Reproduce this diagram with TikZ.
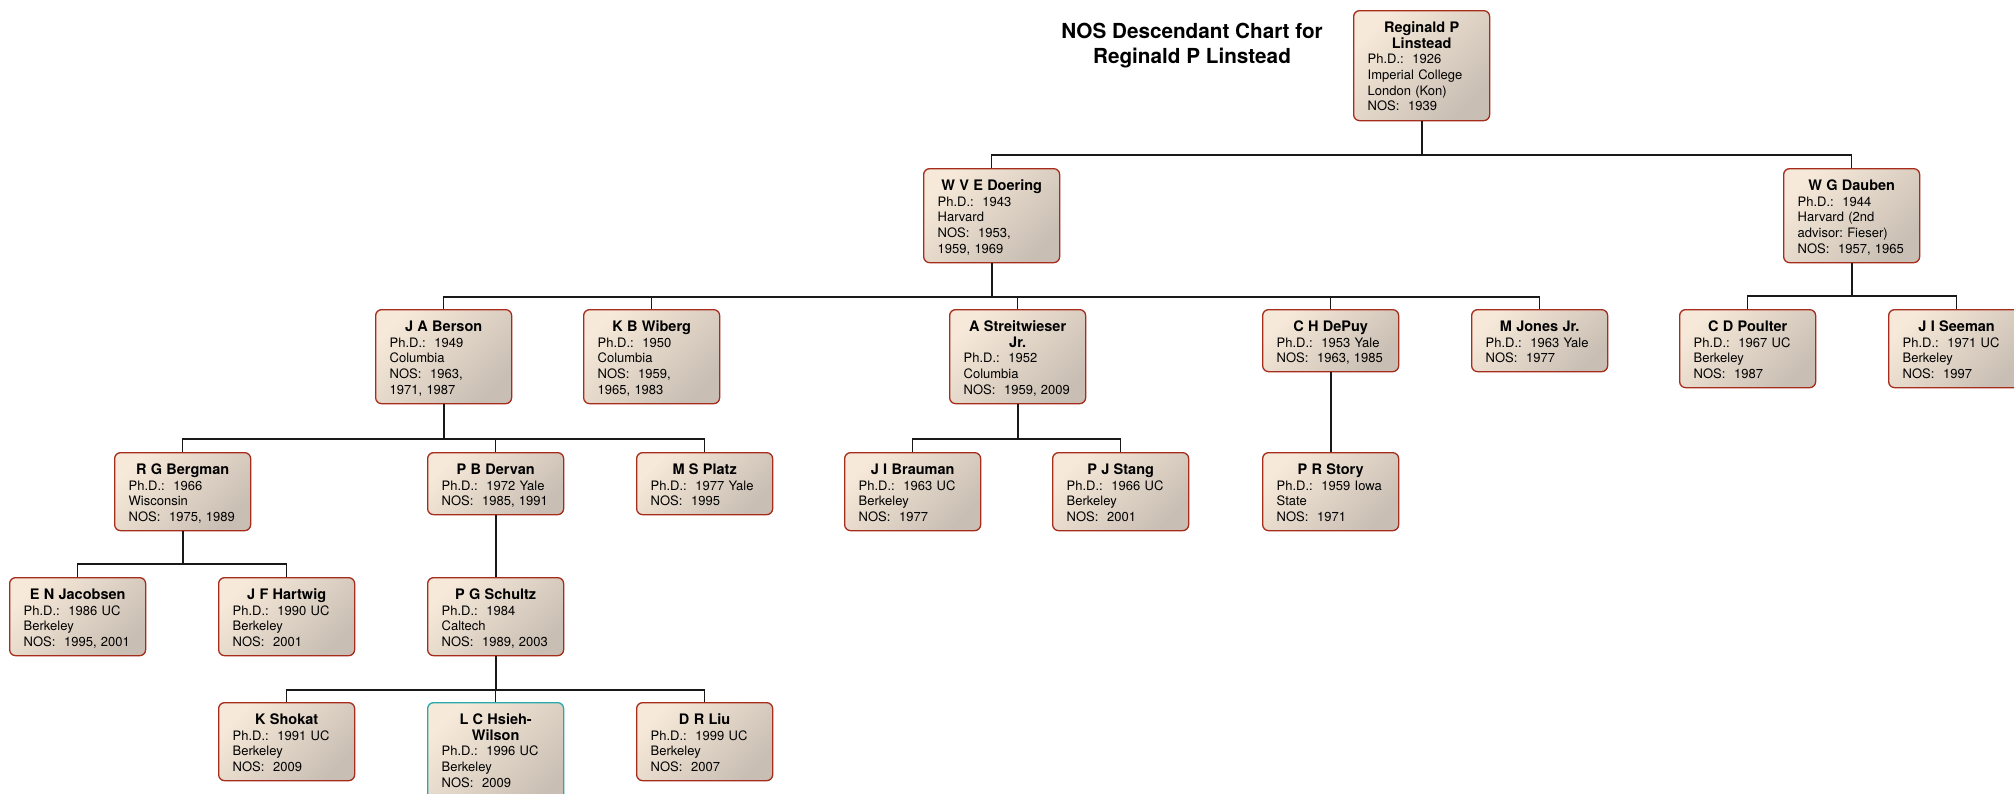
\documentclass[tikz,border=0pt]{standalone}
\usepackage{fontspec}
\setmainfont{TeX Gyre Heros}
\definecolor{boxred}{RGB}{166,44,28}
\definecolor{boxteal}{RGB}{40,168,168}
\definecolor{fillA}{RGB}{246,233,217}
\definecolor{fillB}{RGB}{201,190,179}
\definecolor{linecol}{RGB}{25,25,25}
\newcommand{\nm}{\fontsize{14.5}{15.7}\selectfont\bfseries}
\newcommand{\bd}{\fontsize{13}{15.7}\selectfont\frenchspacing}
\newcommand{\pname}[1]{\makebox[\linewidth]{\nm #1}\\}
\newcommand{\bl}[1]{\mbox{#1}}
\tikzset{
  pbox/.style={draw=boxred, line width=1.3pt, rounded corners=6pt,
    top color=fillA, bottom color=fillB, shading angle=45,
    anchor=north west, inner xsep=14pt, inner ysep=0pt,
    text width=108pt, align=left, text height=21.7pt, font=\bd, text=black},
  lthree/.style={text depth=40.3pt},
  lfour/.style={text depth=56.3pt},
  lfive/.style={text depth=72.3pt},
  lsix/.style={text depth=88.3pt},
  conn/.style={draw=linecol, line width=1.3pt},
  drop/.style={draw=linecol, line width=2pt},
  ttl/.style={font=\fontsize{20.7}{25}\selectfont\bfseries, inner sep=0pt, anchor=base}
}
\begin{document}
\begin{tikzpicture}[x=1pt,y=-1pt]
\useasboundingbox (0,0) rectangle (2014,793);
\clip (0,0) rectangle (2014,793);
\fill[white] (0,0) rectangle (2014,793);

% title
\node[ttl] (title1) at (1192,38.3) {NOS Descendant Chart for};
\node[ttl] (title2) at (1192,63.3) {Reginald P Linstead};

% level 1
\node[pbox,lsix] (lin) at (1353,10) {\pname{Reginald P}\pname{Linstead}\bl{Ph.D.:\ \ 1926}\\\bl{Imperial College}\\\bl{London (Kon)}\\\bl{NOS:\ \ 1939}};

% level 2
\node[pbox,lfive] (doe) at (923,168) {\pname{W V E Doering}\bl{Ph.D.:\ \ 1943}\\\bl{Harvard}\\\bl{NOS:\ \ 1953,}\\\bl{1959, 1969}};
\node[pbox,lfive] (dau) at (1783,168) {\pname{W G Dauben}\bl{Ph.D.:\ \ 1944}\\\bl{Harvard (2nd}\\\bl{advisor: Fieser)}\\\bl{NOS:\ \ 1957, 1965}};

% level 3
\node[pbox,lfive] (ber) at (375,309) {\pname{J A Berson}\bl{Ph.D.:\ \ 1949}\\\bl{Columbia}\\\bl{NOS:\ \ 1963,}\\\bl{1971, 1987}};
\node[pbox,lfive] (wib) at (583,309) {\pname{K B Wiberg}\bl{Ph.D.:\ \ 1950}\\\bl{Columbia}\\\bl{NOS:\ \ 1959,}\\\bl{1965, 1983}};
\node[pbox,lfive] (str) at (949,309) {\pname{A Streitwieser}\pname{Jr.}\bl{Ph.D.:\ \ 1952}\\\bl{Columbia}\\\bl{NOS:\ \ 1959, 2009}};
\node[pbox,lthree] (dep) at (1262,309) {\pname{C H DePuy}\bl{Ph.D.:\ \ 1953 Yale}\\\bl{NOS:\ \ 1963, 1985}};
\node[pbox,lthree] (jon) at (1471,309) {\pname{M Jones Jr.}\bl{Ph.D.:\ \ 1963 Yale}\\\bl{NOS:\ \ 1977}};
\node[pbox,lfour] (pou) at (1679,309) {\pname{C D Poulter}\bl{Ph.D.:\ \ 1967 UC}\\\bl{Berkeley}\\\bl{NOS:\ \ 1987}};
\node[pbox,lfour] (see) at (1888,309) {\pname{J I Seeman}\bl{Ph.D.:\ \ 1971 UC}\\\bl{Berkeley}\\\bl{NOS:\ \ 1997}};

% level 4
\node[pbox,lfour] (brg) at (114,452) {\pname{R G Bergman}\bl{Ph.D.:\ \ 1966}\\\bl{Wisconsin}\\\bl{NOS:\ \ 1975, 1989}};
\node[pbox,lthree] (der) at (427,452) {\pname{P B Dervan}\bl{Ph.D.:\ \ 1972 Yale}\\\bl{NOS:\ \ 1985, 1991}};
\node[pbox,lthree] (pla) at (636,452) {\pname{M S Platz}\bl{Ph.D.:\ \ 1977 Yale}\\\bl{NOS:\ \ 1995}};
\node[pbox,lfour] (bra) at (844,452) {\pname{J I Brauman}\bl{Ph.D.:\ \ 1963 UC}\\\bl{Berkeley}\\\bl{NOS:\ \ 1977}};
\node[pbox,lfour] (sta) at (1052,452) {\pname{P J Stang}\bl{Ph.D.:\ \ 1966 UC}\\\bl{Berkeley}\\\bl{NOS:\ \ 2001}};
\node[pbox,lfour] (sto) at (1262,452) {\pname{P R Story}\bl{Ph.D.:\ \ 1959 Iowa}\\\bl{State}\\\bl{NOS:\ \ 1971}};

% level 5
\node[pbox,lfour] (jac) at (9,577) {\pname{E N Jacobsen}\bl{Ph.D.:\ \ 1986 UC}\\\bl{Berkeley}\\\bl{NOS:\ \ 1995, 2001}};
\node[pbox,lfour] (har) at (218,577) {\pname{J F Hartwig}\bl{Ph.D.:\ \ 1990 UC}\\\bl{Berkeley}\\\bl{NOS:\ \ 2001}};
\node[pbox,lfour] (sch) at (427,577) {\pname{P G Schultz}\bl{Ph.D.:\ \ 1984}\\\bl{Caltech}\\\bl{NOS:\ \ 1989, 2003}};

% level 6
\node[pbox,lfour] (sho) at (218,702) {\pname{K Shokat}\bl{Ph.D.:\ \ 1991 UC}\\\bl{Berkeley}\\\bl{NOS:\ \ 2009}};
\node[pbox,lsix,draw=boxteal] (hsi) at (427,702) {\pname{L C Hsieh-}\pname{Wilson}\bl{Ph.D.:\ \ 1996 UC}\\\bl{Berkeley}\\\bl{NOS:\ \ 2009}};
\node[pbox,lfour] (liu) at (636,702) {\pname{D R Liu}\bl{Ph.D.:\ \ 1999 UC}\\\bl{Berkeley}\\\bl{NOS:\ \ 2007}};

% bus levels
\coordinate (bA) at (0,155);
\coordinate (bB) at (0,297);
\coordinate (bC) at (0,296);
\coordinate (bD) at (0,439);
\coordinate (bE) at (0,564);
\coordinate (bF) at (0,690);

% Linstead
\draw[drop] (lin.south) -- (lin.south |- bA);
\draw[conn] (doe.north) -- (doe.north |- bA) -| (dau.north);

% Doering
\draw[drop] (doe.south) -- (doe.south |- bB);
\draw[conn] (ber.north) -- (ber.north |- bB) -| (jon.north);
\draw[conn] (wib.north) -- (wib.north |- bB);
\draw[conn] (str.north) -- (str.north |- bB);
\draw[conn] (dep.north) -- (dep.north |- bB);

% Dauben
\draw[drop] (dau.south) -- (dau.south |- bC);
\draw[conn] (pou.north) -- (pou.north |- bC) -| (see.north);

% Berson
\draw[drop] (ber.south) -- (ber.south |- bD);
\draw[conn] (brg.north) -- (brg.north |- bD) -| (pla.north);
\draw[conn] (der.north) -- (der.north |- bD);

% Streitwieser
\draw[drop] (str.south) -- (str.south |- bD);
\draw[conn] (bra.north) -- (bra.north |- bD) -| (sta.north);

% DePuy
\draw[drop] (dep.south) -- (sto.north);

% Bergman
\draw[drop] (brg.south) -- (brg.south |- bE);
\draw[conn] (jac.north) -- (jac.north |- bE) -| (har.north);

% Dervan
\draw[drop] (der.south) -- (sch.north);

% Schultz
\draw[drop] (sch.south) -- (sch.south |- bF);
\draw[conn] (sho.north) -- (sho.north |- bF) -| (liu.north);
\draw[conn] (hsi.north) -- (hsi.north |- bF);
\end{tikzpicture}
\end{document}
